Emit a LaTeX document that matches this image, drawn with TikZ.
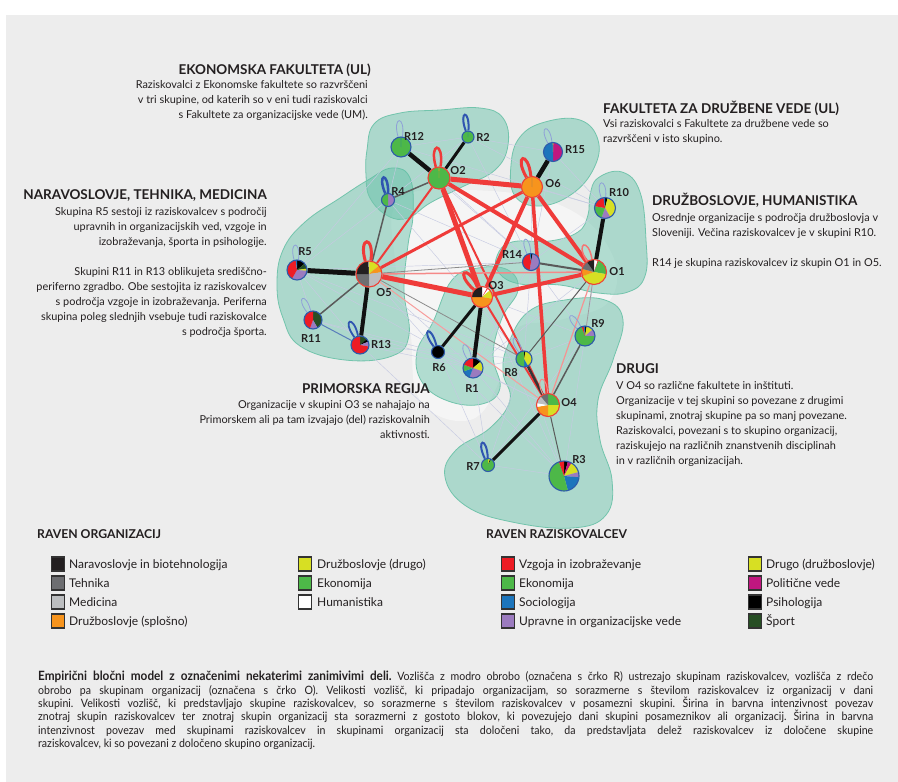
\documentclass[tikz,border=0pt]{standalone}
\usepackage{fontspec}
\setmainfont{Lato}
\newfontfamily\captionfont[FakeStretch=0.92]{Lato}
\usepackage{xcolor}
\usepackage{tikz}
\definecolor{PanelGray}{HTML}{EDEDED}
\definecolor{InkDark}{HTML}{231F20}
\definecolor{ClusterTeal}{HTML}{5FBFA5}
\definecolor{ClusterEdge}{HTML}{72C4AC}
\definecolor{TieRed}{HTML}{EF3B39}
\definecolor{TieBlack}{HTML}{111111}
\definecolor{TieGray}{HTML}{5A5A5A}
\definecolor{FaintLine}{HTML}{C6CAE2}
\definecolor{OrgRing}{HTML}{EF4136}
\definecolor{ResRing}{HTML}{2E5BAA}
\definecolor{ResLoop}{HTML}{2F55B0}
\definecolor{ResLoopLight}{HTML}{8FA0D8}
\definecolor{OrgDark}{HTML}{231F20}
\definecolor{OrgGray}{HTML}{6D6E71}
\definecolor{OrgLight}{HTML}{BCBEC0}
\definecolor{OrgOrange}{HTML}{F7941D}
\definecolor{OrgYellow}{HTML}{D7DF23}
\definecolor{OrgGreen}{HTML}{4DB848}
\definecolor{OrgWhite}{HTML}{FFFFFF}
\definecolor{ResRed}{HTML}{ED1C24}
\definecolor{ResGreen}{HTML}{4DB848}
\definecolor{ResBlue}{HTML}{1C75BC}
\definecolor{ResPurple}{HTML}{9B7BBF}
\definecolor{ResYellow}{HTML}{D7DF23}
\definecolor{ResMagenta}{HTML}{C0177F}
\definecolor{ResBlack}{HTML}{000000}
\definecolor{ResSport}{HTML}{274E24}
\definecolor{SwatchEdge}{HTML}{333333}
\pgfdeclarelayer{background}
\pgfdeclarelayer{edges}
\pgfsetlayers{background,edges,main}

\begin{document}
\begin{tikzpicture}[x=1pt, y=1pt,
    orgvertex/.style={circle, inner sep=0pt, minimum size=#1, draw=OrgRing, line width=1.1pt},
    resvertex/.style={circle, inner sep=0pt, minimum size=#1, draw=ResRing, line width=1.1pt},
    pie/.style={path picture={\foreach \sa/\sb/\sc in {#1}{\fill[\sc] (path picture bounding box.center) -- ++(\sa:20pt) arc[start angle=\sa, end angle=\sb, radius=20pt] -- cycle;}}},
    orgtie/.style={draw=TieRed, line width=#1},
    restie/.style={draw=TieBlack, line width=#1},
    faint/.style={draw=FaintLine, line width=0.45pt},
    orgloop/.style={draw=TieRed, line width=#1},
    resloop/.style={draw=ResLoop, line width=#1},
    cluster/.style={fill=ClusterTeal, fill opacity=0.45, draw=ClusterEdge, line width=0.8pt},
    lbl/.style={font=\bfseries\fontsize{11}{13}\selectfont, text=InkDark, inner sep=0pt},
    headtxt/.style={font=\bfseries\fontsize{13.5}{16}\selectfont, text=InkDark, inner sep=0pt},
    bodytxt/.style={font=\fontsize{10.9}{15}\selectfont, text=InkDark, inner sep=0pt},
    legtitle/.style={font=\bfseries\fontsize{12.2}{14}\selectfont, text=InkDark, inner sep=0pt},
    legtxt/.style={font=\fontsize{12}{14}\selectfont, text=InkDark, inner sep=0pt},
    swatch/.style={draw=SwatchEdge, line width=1.1pt, fill=#1, minimum width=13pt, minimum height=14pt, inner sep=0pt}]
    \useasboundingbox (0,0) rectangle (898,-782);

    \begin{pgfonlayer}{background}
    \fill[PanelGray] (6,-15) rectangle (898,-782);
    \fill[white, opacity=0.45] plot[smooth cycle, tension=0.7] coordinates {(400,-200) (470,-190) (560,-205) (610,-250) (610,-300) (560,-320) (515,-330) (500,-380) (470,-420) (420,-400) (410,-330) (395,-260)};
    \draw[cluster] plot[smooth cycle, tension=0.7] coordinates {(283,-250) (305,-222) (340,-198) (368,-180) (392,-168) (410,-178) (413,-215) (408,-245) (404,-290) (409,-335) (392,-356) (345,-360) (300,-346) (283,-318) (277,-285)};
    \draw[cluster] plot[smooth cycle, tension=0.7] coordinates {(367,-150) (374,-124) (400,-113) (440,-110) (480,-108) (503,-118) (508,-145) (495,-170) (462,-187) (430,-203) (408,-218) (388,-216) (370,-198) (366,-175)};
    \draw[cluster] plot[smooth cycle, tension=0.7] coordinates {(511,-165) (520,-137) (545,-122) (580,-120) (598,-140) (594,-168) (572,-194) (540,-206) (515,-196)};
    \draw[cluster] plot[smooth cycle, tension=0.7] coordinates {(590,-195) (598,-178) (622,-172) (640,-192) (646,-240) (645,-276) (628,-292) (598,-293) (560,-285) (520,-284) (499,-273) (497,-256) (512,-242) (550,-241) (578,-232) (588,-215)};
    \draw[cluster] plot[smooth cycle, tension=0.7] coordinates {(452,-280) (478,-268) (508,-270) (518,-290) (502,-318) (493,-355) (500,-388) (482,-404) (448,-401) (422,-382) (417,-352) (433,-322)};
    \draw[cluster] plot[smooth cycle, tension=0.7] coordinates {(508,-345) (528,-312) (565,-300) (605,-300) (623,-320) (613,-360) (598,-400) (600,-440) (612,-480) (606,-515) (572,-528) (512,-522) (466,-506) (445,-477) (456,-450) (490,-428) (510,-400) (503,-372)};
    \end{pgfonlayer}

    \node[orgvertex=22pt, pie={90/-270/OrgGreen, 92/88/OrgOrange}] (O2) at (439,-178) {};
    \node[resvertex=20pt, pie={90/-270/ResGreen, 92/88/ResBlue}] (R12) at (401,-147) {};
    \node[resvertex=12pt, pie={90/-270/ResGreen, 92/87/ResBlue}] (R2) at (468,-137) {};
    \node[resvertex=13pt, pie={90/-90/ResPurple, -90/-270/ResGreen}] (R4) at (388,-200) {};
    \node[orgvertex=21pt, pie={90/-270/OrgOrange, 91/89/OrgGray}] (O6) at (532,-187) {};
    \node[resvertex=19pt, pie={90/-90/ResMagenta, -90/-270/ResBlue, 92/88/ResYellow}] (R15) at (553,-152) {};
    \node[resvertex=21pt, pie={90/75/ResBlack, 75/-60/ResYellow, -60/-110/ResPurple, -110/-190/ResGreen, -190/-262/ResRed, -262/-270/ResBlue}] (R10) at (605,-208) {};
    \node[orgvertex=25pt, pie={90/72/OrgWhite, 72/68/ResRed, 68/-10/OrgGreen, -10/-160/OrgYellow, -160/-195/OrgOrange, -195/-235/OrgGray, -235/-270/OrgDark}] (O1) at (594,-272) {};
    \node[resvertex=17pt, pie={90/78/ResBlack, 78/-100/ResPurple, -100/-262/ResRed, -262/-270/ResBlue}] (R14) at (531,-262) {};
    \node[orgvertex=26pt, pie={90/40/OrgYellow, 40/8/OrgOrange, 8/-90/OrgLight, -90/-180/OrgGray, -180/-268/OrgDark, -268/-270/OrgWhite}] (O5) at (369,-274) {};
    \node[resvertex=20pt, pie={90/40/ResBlack, 40/8/ResSport, 8/-5/ResYellow, -5/-120/ResPurple, -120/-262/ResRed, -262/-270/ResBlue}] (R5) at (297,-270) {};
    \node[resvertex=18pt, pie={90/-60/ResSport, -60/-110/ResPurple, -110/-270/ResRed}] (R11) at (313,-320) {};
    \node[resvertex=18pt, pie={90/40/ResSport, 40/22/ResBlack, 22/-10/ResPurple, -10/-270/ResRed}] (R13) at (360,-345) {};
    \node[orgvertex=21pt, pie={90/40/OrgWhite, 40/-10/OrgYellow, -10/-180/OrgOrange, -180/-270/OrgDark, 60/55/ResRed}] (O3) at (482,-297) {};
    \node[resvertex=13pt, pie={90/-270/ResBlack}] (R6) at (438,-352) {};
    \node[resvertex=20pt, pie={90/40/ResBlack, 40/-20/ResYellow, -20/-110/ResPurple, -110/-160/ResBlue, -160/-200/ResGreen, -200/-270/ResRed}] (R1) at (473,-368) {};
    \node[resvertex=16pt, pie={90/78/ResBlack, 78/-60/ResYellow, -60/-90/ResBlue, -90/-270/ResGreen}] (R8) at (524,-359) {};
    \node[resvertex=20pt, pie={90/80/ResBlack, 80/40/ResYellow, 40/0/ResPurple, 0/-250/ResGreen, -250/-262/ResRed, -262/-270/ResBlue}] (R9) at (585,-336) {};
    \node[orgvertex=23pt, pie={90/0/OrgGreen, 0/-90/OrgYellow, -90/-170/OrgOrange, -170/-190/OrgWhite, -190/-230/OrgLight, -230/-270/OrgGray}] (O4) at (548,-405) {};
    \node[resvertex=13pt, pie={90/70/ResYellow, 70/60/ResBlack, 60/-270/ResGreen}] (R7) at (488,-465) {};
    \node[resvertex=30pt, pie={90/75/ResBlack, 75/60/ResMagenta, 60/15/ResYellow, 15/-5/ResPurple, -5/-75/ResBlue, -75/-250/ResGreen, -250/-270/ResRed}] (R3) at (564,-476) {};

    \node[lbl] (lR12) at (414,-136) {R12};
    \node[lbl] (lO2) at (458,-171) {O2};
    \node[lbl] (lR2) at (483,-137) {R2};
    \node[lbl] (lR4) at (398,-192) {R4};
    \node[lbl] (lO6) at (553,-184) {O6};
    \node[lbl] (lR15) at (575,-150) {R15};
    \node[lbl] (lR10) at (619,-193) {R10};
    \node[lbl] (lO1) at (617,-272) {O1};
    \node[lbl] (lR14) at (512,-255) {R14};
    \node[lbl] (lO5) at (384,-293) {O5};
    \node[lbl] (lR5) at (305,-252) {R5};
    \node[lbl] (lR11) at (311,-339) {R11};
    \node[lbl] (lR13) at (381,-345) {R13};
    \node[lbl] (lO3) at (496,-286) {O3};
    \node[lbl] (lR6) at (439,-368) {R6};
    \node[lbl] (lR1) at (472,-389) {R1};
    \node[lbl] (lR8) at (511,-373) {R8};
    \node[lbl] (lR9) at (598,-323) {R9};
    \node[lbl] (lO4) at (569,-403) {O4};
    \node[lbl] (lR7) at (473,-467) {R7};
    \node[lbl] (lR3) at (579,-460) {R3};

    \begin{pgfonlayer}{edges}
    \foreach \u/\v in {R12/R2, R12/R4, R2/R4, R12/R5, R4/R5, R5/R11, R5/R13, R5/R14, R2/R10, R2/R15, R15/R10, R10/R14, R14/R1, R14/R8, R6/R1, R1/R8, R6/R8, R8/R9, R9/R3, R8/R3, R7/R3, R7/R8, R1/R7, R6/R7, R13/R6, R11/R6, R5/R1, R10/R9, R14/R9, R12/R14, R4/R14, R2/R14, R13/R1, R9/R7, R6/R3, R1/R3, R15/R14, R4/R8, R5/R8, R12/R10, R13/R7, R11/R1, O5/R6, O5/R1, O2/R14, O6/R10, O6/R14, O3/R9, O1/R1, O4/R1, O4/R6, O3/R3}
        \draw[faint] (\u) -- (\v);
    \draw[draw=ResRing!80, line width=1pt] (R11) -- (R13);

    \draw[orgtie=2pt] (O2) -- (O5);
    \draw[orgtie=2pt] (O2) -- (O4);
    \draw[orgtie=3pt] (O6) -- (O5);
    \draw[orgtie=1.5pt, TieRed!60] (O5) -- (O1);
    \draw[orgtie=1pt, TieRed!50] (O5) -- (O4);
    \draw[orgtie=1.2pt, TieRed!55] (O1) -- (O4);
    \draw[orgtie=2pt] (O3) -- (O4);
    \draw[orgtie=3.5pt] (O6) -- (O4);
    \draw[orgtie=4pt] (O6) -- (O3);
    \draw[orgtie=4pt] (O6) -- (O1);
    \draw[orgtie=4pt] (O2) -- (O1);
    \draw[orgtie=4pt] (O3) -- (O1);
    \draw[orgtie=5pt] (O2) -- (O6);
    \draw[orgtie=5pt] (O2) -- (O3);
    \draw[orgtie=5pt] (O5) -- (O3);

    \draw[restie=0.8pt, TieGray!60] (O1) -- (R9);
    \draw[restie=0.8pt, TieGray!70] (O5) -- (R8);
    \draw[restie=0.8pt, TieGray!70] (O5) -- (R14);
    \draw[restie=1pt, TieGray] (O1) -- (R8);
    \draw[restie=1pt, TieGray] (O4) -- (R3);
    \draw[restie=1.5pt, TieGray] (O4) -- (R9);
    \draw[restie=1.5pt, TieGray] (O2) -- (R4);
    \draw[restie=1.5pt, TieGray] (O5) -- (R4);
    \draw[restie=1.5pt, TieGray] (O5) -- (R11);
    \draw[restie=2pt, TieGray] (O1) -- (R14);
    \draw[restie=2.5pt, TieGray!60!black] (O4) -- (R8);
    \draw[restie=3pt] (O2) -- (R2);
    \draw[restie=3pt] (O3) -- (R6);
    \draw[restie=3pt] (O4) -- (R7);
    \draw[restie=4pt] (O1) -- (R10);
    \draw[restie=4pt] (O5) -- (R13);
    \draw[restie=4pt] (O3) -- (R1);
    \draw[restie=4.5pt] (O2) -- (R12);
    \draw[restie=4.5pt] (O6) -- (R15);
    \draw[restie=5pt] (O5) -- (R5);

    \draw[orgloop=2.5pt] (O2) to[out=106, in=82, min distance=26pt] (O2);
    \draw[orgloop=3pt] (O6) to[out=120, in=96, min distance=26pt] (O6);
    \draw[orgloop=3pt] (O5) to[out=106, in=82, min distance=26pt] (O5);
    \draw[orgloop=3pt] (O3) to[out=138, in=114, min distance=26pt] (O3);
    \draw[orgloop=1.5pt, TieRed!70] (O1) to[out=123, in=99, min distance=22pt] (O1);
    \draw[orgloop=1pt, TieRed!60] (O4) to[out=116, in=92, min distance=20pt] (O4);
    \draw[resloop=0.8pt, ResLoopLight] (R12) to[out=106, in=82, min distance=22pt] (R12);
    \draw[resloop=2pt] (R2) to[out=110, in=86, min distance=22pt] (R2);
    \draw[resloop=2.5pt] (R4) to[out=113, in=89, min distance=22pt] (R4);
    \draw[resloop=0.8pt, ResLoopLight] (R15) to[out=120, in=96, min distance=20pt] (R15);
    \draw[resloop=0.8pt, ResLoopLight] (R10) to[out=110, in=86, min distance=20pt] (R10);
    \draw[resloop=0.8pt, ResLoopLight] (R14) to[out=116, in=92, min distance=20pt] (R14);
    \draw[resloop=0.8pt, ResLoopLight] (R5) to[out=106, in=82, min distance=20pt] (R5);
    \draw[resloop=0.8pt, ResLoopLight] (R11) to[out=128, in=104, min distance=20pt] (R11);
    \draw[resloop=1.8pt] (R13) to[out=126, in=102, min distance=22pt] (R13);
    \draw[resloop=2pt] (R6) to[out=128, in=104, min distance=22pt] (R6);
    \draw[resloop=0.8pt, ResLoopLight] (R1) to[out=123, in=99, min distance=20pt] (R1);
    \draw[resloop=0.8pt, ResLoopLight] (R8) to[out=128, in=104, min distance=20pt] (R8);
    \draw[resloop=0.8pt, ResLoopLight] (R9) to[out=138, in=114, min distance=20pt] (R9);
    \draw[resloop=2pt] (R7) to[out=116, in=92, min distance=22pt] (R7);
    \end{pgfonlayer}

    \node[headtxt, anchor=base east] (hEko) at (371,-74) {EKONOMSKA FAKULTETA (UL)};
    \node[bodytxt, align=right, anchor=north east] (bEko) at (368,-80.5) {Raziskovalci z Ekonomske fakultete so razvrščeni\\ v tri skupine, od katerih so v eni tudi raziskovalci\\ s Fakultete za organizacijske vede (UM).};
    \node[headtxt, anchor=base east] (hNar) at (267,-199) {NARAVOSLOVJE, TEHNIKA, MEDICINA};
    \node[bodytxt, align=right, anchor=north east] (bNar) at (267,-207.5) {Skupina R5 sestoji iz raziskovalcev s področij\\ upravnih in organizacijskih ved, vzgoje in\\ izobraževanja, športa in psihologije.\\[15pt] Skupini R11 in R13 oblikujeta središčno-\\ periferno zgradbo. Obe sestojita iz raziskovalcev\\ s področja vzgoje in izobraževanja. Periferna\\ skupina poleg slednjih vsebuje tudi raziskovalce\\ s področja športa.};
    \node[headtxt, anchor=base east] (hPri) at (430,-393) {PRIMORSKA REGIJA};
    \node[bodytxt, align=right, anchor=north east] (bPri) at (430,-400.5) {Organizacije v skupini O3 se nahajajo na\\ Primorskem ali pa tam izvajajo (del) raziskovalnih\\ aktivnosti.};
    \node[headtxt, anchor=base west] (hFdv) at (603,-113) {FAKULTETA ZA DRUŽBENE VEDE (UL)};
    \node[bodytxt, align=left, anchor=north west] (bFdv) at (603,-119.5) {Vsi raziskovalci s Fakultete za družbene vede so\\ razvrščeni v isto skupino.};
    \node[headtxt, anchor=base west] (hDru) at (652,-205) {DRUŽBOSLOVJE, HUMANISTIKA};
    \node[bodytxt, align=left, anchor=north west] (bDru) at (652,-213.5) {Osrednje organizacije s področja družboslovja v\\ Sloveniji. Večina raziskovalcev je v skupini R10.\\[15pt] R14 je skupina raziskovalcev iz skupin O1 in O5.};
    \node[headtxt, anchor=base west] (hDrg) at (616,-373) {DRUGI};
    \node[bodytxt, align=left, anchor=north west] (bDrg) at (616,-381.5) {V O4 so različne fakultete in inštituti.\\ Organizacije v tej skupini so povezane z drugimi\\ skupinami, znotraj skupine pa so manj povezane.\\ Raziskovalci, povezani s to skupino organizacij,\\ raziskujejo na različnih znanstvenih disciplinah\\ in v različnih organizacijah.};

    \node[legtitle, anchor=base west] (tOrg) at (37,-538.5) {RAVEN ORGANIZACIJ};
    \foreach \c/\t [count=\i] in {OrgDark/Naravoslovje in biotehnologija, OrgGray/Tehnika, OrgLight/Medicina, OrgOrange/Družboslovje (splošno)} {
        \node[swatch=\c] (so\i) at (58,{-564-19*(\i-1)}) {};
        \node[legtxt, anchor=base west] (to\i) at (69,{-568.2-19*(\i-1)}) {\t};
    }
    \foreach \c/\t [count=\i] in {OrgYellow/Družboslovje (drugo), OrgGreen/Ekonomija, OrgWhite/Humanistika} {
        \node[swatch=\c] (sp\i) at (305,{-564-19*(\i-1)}) {};
        \node[legtxt, anchor=base west] (tp\i) at (317,{-568.2-19*(\i-1)}) {\t};
    }
    \node[legtitle, anchor=base west] (tRes) at (486,-538.5) {RAVEN RAZISKOVALCEV};
    \foreach \c/\t [count=\i] in {ResRed/Vzgoja in izobraževanje, ResGreen/Ekonomija, ResBlue/Sociologija, ResPurple/Upravne in organizacijske vede} {
        \node[swatch=\c] (sr\i) at (508,{-564-19*(\i-1)}) {};
        \node[legtxt, anchor=base west] (tr\i) at (519,{-568.2-19*(\i-1)}) {\t};
    }
    \foreach \c/\t [count=\i] in {ResYellow/Drugo (družboslovje), ResMagenta/Politične vede, ResBlack/Psihologija, ResSport/Šport} {
        \node[swatch=\c] (ss\i) at (755,{-564-19*(\i-1)}) {};
        \node[legtxt, anchor=base west] (ts\i) at (766,{-568.2-19*(\i-1)}) {\t};
    }

    \node[font=\captionfont\fontsize{11.5}{13.4}\selectfont\frenchspacing, text=InkDark, inner sep=0pt, text width=835pt, align=justify, anchor=north west] (cap) at (38,-671) {{\fontsize{12.8}{13.4}\selectfont\bfseries Empirični bločni model z označenimi nekaterimi zanimivimi deli.} Vozlišča z modro obrobo (označena s črko R) ustrezajo skupinam raziskovalcev, vozlišča z rdečo\linebreak obrobo pa skupinam organizacij (označena s črko O). Velikosti vozlišč, ki pripadajo organizacijam, so sorazmerne s številom raziskovalcev iz organizacij v dani\linebreak skupini. Velikosti vozlišč, ki predstavljajo skupine raziskovalcev, so sorazmerne s številom raziskovalcev v posamezni skupini. Širina in barvna intenzivnost povezav\linebreak znotraj skupin raziskovalcev ter znotraj skupin organizacij sta sorazmerni z gostoto blokov, ki povezujejo dani skupini posameznikov ali organizacij. Širina in barvna\linebreak intenzivnost povezav med skupinami raziskovalcev in skupinami organizacij sta določeni tako, da predstavljata delež raziskovalcev iz določene skupine\linebreak raziskovalcev, ki so povezani z določeno skupino organizacij.};
\end{tikzpicture}
\end{document}
